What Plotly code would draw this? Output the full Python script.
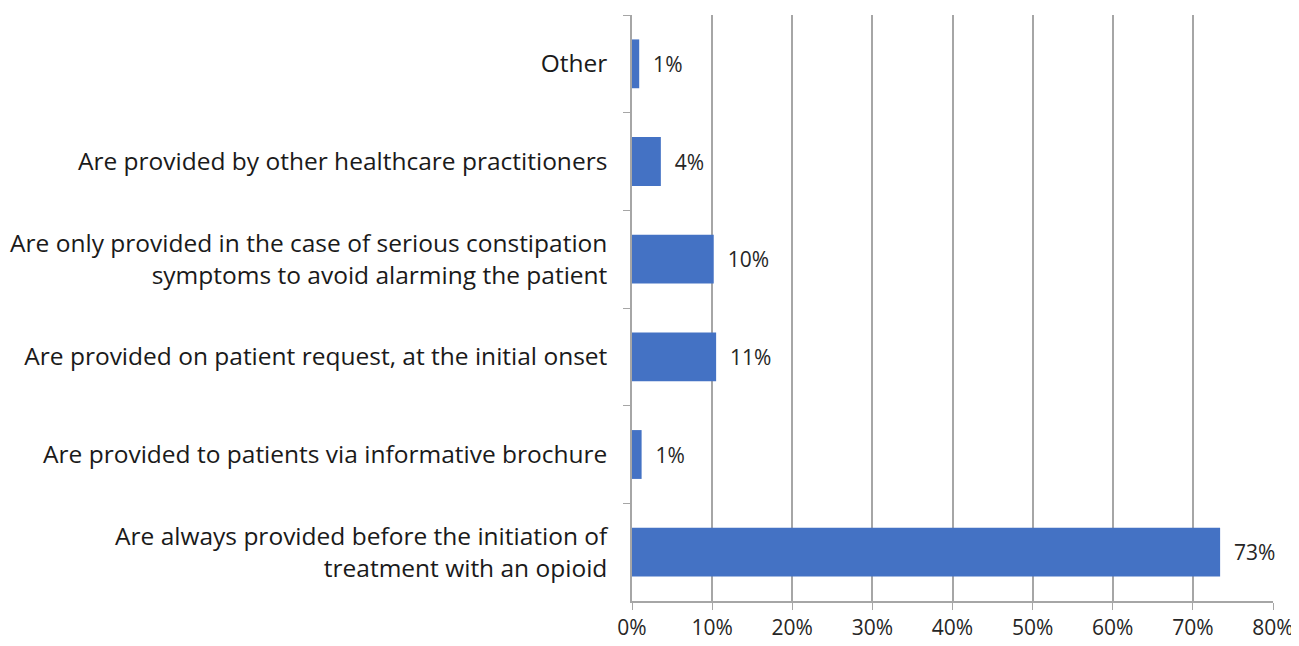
import plotly.graph_objects as go

categories = [
    "Other",
    "Are provided by other healthcare practitioners",
    "Are only provided in the case of serious constipation<br>symptoms to avoid alarming the patient",
    "Are provided on patient request, at the initial onset",
    "Are provided to patients via informative brochure",
    "Are always provided before the initiation of<br>treatment with an opioid",
]
values = [0.9, 3.6, 10.2, 10.5, 1.2, 73.4]
value_labels = ["1%", "4%", "10%", "11%", "1%", "73%"]
x_ticks = [0, 10, 20, 30, 40, 50, 60, 70, 80]
x_tick_labels = ["0%", "10%", "20%", "30%", "40%", "50%", "60%", "70%", "80%"]

FONT = "Open Sans, sans-serif"

fig = go.Figure(go.Bar(
    y=categories,
    x=values,
    orientation="h",
    marker=dict(color="#4472C4", line=dict(width=0)),
    width=0.5,
    text=value_labels,
    texttemplate="\u00a0\u00a0%{text}",
    textposition="outside",
    textfont=dict(family=FONT, size=21, color="#262626"),
    cliponaxis=False,
))

fig.update_layout(
    width=1299,
    height=646,
    margin=dict(l=624, r=34, t=7, b=53),
    paper_bgcolor="white",
    plot_bgcolor="white",
    showlegend=False,
    xaxis=dict(
        range=[0, 80],
        tickvals=x_ticks,
        ticktext=x_tick_labels,
        showgrid=True,
        gridcolor="#A6A6A6",
        gridwidth=1.5,
        zeroline=False,
        showline=True,
        linecolor="#A6A6A6",
        linewidth=1.5,
        ticks="outside",
        ticklen=7,
        tickcolor="#A6A6A6",
        tickfont=dict(family=FONT, size=21, color="#262626"),
        automargin=False,
        fixedrange=True,
    ),
    yaxis=dict(
        autorange="reversed",
        showgrid=False,
        zeroline=False,
        showline=True,
        linecolor="#A6A6A6",
        linewidth=1.5,
        ticks="outside",
        tickson="boundaries",
        ticklen=7,
        tickcolor="#A6A6A6",
        tickfont=dict(family=FONT, size=24.5, color="#1a1a1a"),
        ticklabelstandoff=18,
        automargin=False,
        fixedrange=True,
    ),
)

fig.write_html("out.html")
